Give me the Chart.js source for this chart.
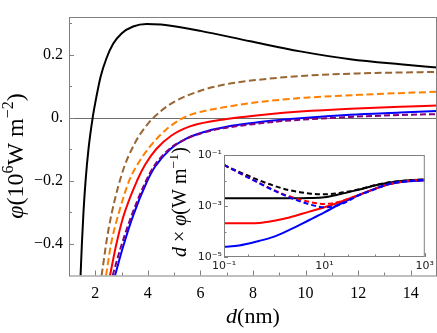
<!DOCTYPE html>
<html>
<head>
<meta charset="utf-8">
<script src="https://cdn.jsdelivr.net/npm/chart.js@4.4.1/dist/chart.umd.min.js"></script>
<style>
html, body { margin: 0; padding: 0; background: #fff; }
#wrap { position: relative; width: 437px; height: 333px; }
#mainChart { position: absolute; left: 0; top: 0; }
#insetChart { position: absolute; left: 170px; top: 140px; }
</style>
</head>
<body>
<div id="wrap">
  <canvas id="mainChart" width="437" height="333"></canvas>
  <canvas id="insetChart" width="267" height="140"></canvas>
</div>
<script>
// Main plot data: d (nm) and phi (10^6 W m^-2) per curve
const blackD = [1.44, 1.49, 1.55, 1.63, 1.74, 1.9, 2.05, 2.2, 2.43, 2.68, 3.0, 3.44, 3.95, 4.5, 5.0, 6.0, 7.9, 9.8, 11.7, 13.6, 15];
const blackPhi = [-0.5, -0.4, -0.3, -0.2, -0.1, 0, 0.07, 0.13, 0.19, 0.235, 0.268, 0.29, 0.298, 0.296, 0.291, 0.276, 0.243, 0.211, 0.186, 0.17, 0.16];

const brownD = [2.24, 2.5, 3.0, 3.5, 4.0, 4.5, 5.0, 6.0, 7.0, 8.0, 10, 12, 15];
const brownPhi = [-0.5, -0.355, -0.181, -0.081, -0.019, 0.022, 0.051, 0.086, 0.107, 0.119, 0.134, 0.141, 0.146];

const orangeD = [2.41, 2.6, 2.9, 3.3, 3.7, 4.14, 4.71, 5.35, 6.0, 7.0, 8.0, 9.0, 10, 12, 15];
const orangePhi = [-0.5, -0.4, -0.3, -0.197, -0.135, -0.085, -0.036, 0, 0.019, 0.035, 0.048, 0.057, 0.064, 0.073, 0.083];

const redD = [2.56, 2.79, 3.06, 3.6, 3.9, 4.33, 4.9, 5.6, 6.5, 7.5, 8.5, 9.8, 11.7, 13.6, 15];
const redPhi = [-0.5, -0.405, -0.315, -0.197, -0.148, -0.098, -0.056, -0.027, -0.01, 0.002, 0.011, 0.02, 0.029, 0.035, 0.039];

const blueD = [2.75, 3.06, 3.44, 3.95, 4.27, 4.84, 5.5, 6.24, 7.0, 8.0, 9.0, 9.8, 11.7, 13.6, 15];
const bluePhi = [-0.5, -0.408, -0.31, -0.205, -0.155, -0.1, -0.064, -0.042, -0.028, -0.016, -0.007, -0.001, 0.01, 0.017, 0.022];

const purpleD = [2.66, 2.98, 3.38, 3.9, 4.22, 4.8, 5.5, 6.24, 7.0, 8.0, 9.0, 9.8, 11.7, 13.6, 15];
const purplePhi = [-0.5, -0.408, -0.31, -0.205, -0.155, -0.1, -0.065, -0.044, -0.031, -0.02, -0.011, -0.006, 0.003, 0.009, 0.012];

const dTicks = [2, 4, 6, 8, 10, 12, 14];
const dMinor = [3, 5, 7, 9, 11, 13];
const phiTicks = [-0.4, -0.2, 0, 0.2];
const phiMinor = [-0.3, -0.1, 0.1, 0.3];

// Inset data: d x phi (W m^-1) on log-log axes
const insetD = [0.1, 0.2, 0.5, 1, 2, 5, 10, 20, 50, 100, 200, 500, 1000];
const insetBlack = [2.0e-3, 2.0e-3, 2.0e-3, 2.0e-3, 2.0e-3, 2.04e-3, 2.19e-3, 2.88e-3, 4.47e-3, 6.31e-3, 8.32e-3, 1.02e-2, 1.1e-2];
const insetBlackDash = [4.07e-2, 2.19e-2, 1.02e-2, 6.17e-3, 4.17e-3, 3.09e-3, 2.88e-3, 3.24e-3, 4.57e-3, 6.46e-3, 8.5e-3, 1.02e-2, 1.1e-2];
const insetRed = [2.09e-4, 2.09e-4, 2.16e-4, 2.63e-4, 3.55e-4, 6.03e-4, 8.91e-4, 1.41e-3, 2.75e-3, 4.68e-3, 7.24e-3, 9.77e-3, 1.05e-2];
const insetRedDash = [4.07e-2, 2.0e-2, 8.1e-3, 4.17e-3, 2.4e-3, 1.45e-3, 1.2e-3, 1.48e-3, 2.75e-3, 4.68e-3, 7.24e-3, 9.77e-3, 1.05e-2];
const insetBlue = [2.51e-5, 2.82e-5, 4.27e-5, 6.31e-5, 1.15e-4, 2.82e-4, 5.62e-4, 1.17e-3, 2.75e-3, 4.68e-3, 7.41e-3, 9.33e-3, 1.0e-2];
const insetBlueDash = [4.07e-2, 2.0e-2, 7.9e-3, 3.98e-3, 2.19e-3, 1.17e-3, 8.9e-4, 1.12e-3, 2.69e-3, 4.5e-3, 7.41e-3, 9.55e-3, 1.05e-2];

const insetXTicks = [0.1, 10, 1000];
const insetXMinor = [0.3, 1, 3, 30, 100, 300];
const insetYTicks = [1e-5, 1e-3, 1e-1];
const insetYMinor = [1e-4, 1e-2];

const colors = {
    black: '#000000',
    brown: '#996633',
    orange: '#ff8000',
    red: '#ff0000',
    blue: '#0000ff',
    purple: '#800080'
};

const serif = "'Liberation Serif', 'DejaVu Serif', serif";
const sans = "'DejaVu Sans', 'Liberation Sans', sans-serif";
const frameColor = '#808080';

const pts = (xs, ys) => xs.map((x, i) => ({ x: x, y: ys[i] }));

const line = (xs, ys, color, dash, width) => ({
    data: pts(xs, ys),
    borderColor: color,
    borderWidth: width || 2,
    borderDash: dash || [],
    pointRadius: 0,
    fill: false,
    cubicInterpolationMode: 'monotone'
});

// text with italic / superscript parts, centred on (x, y) baseline
function drawRich(ctx, parts, x, y, size, angle) {
    const fontFor = p => {
        if (p[1] === 'i') return 'italic ' + size + 'px ' + serif;
        if (p[1] === 's') return Math.round(size * 0.68) + 'px ' + serif;
        return size + 'px ' + serif;
    };
    ctx.save();
    ctx.translate(x, y);
    ctx.rotate(angle);
    let total = 0;
    parts.forEach(p => { ctx.font = fontFor(p); total += ctx.measureText(p[0]).width; });
    let cx = -total / 2;
    ctx.fillStyle = '#000';
    ctx.textBaseline = 'alphabetic';
    ctx.textAlign = 'left';
    parts.forEach(p => {
        ctx.font = fontFor(p);
        ctx.fillText(p[0], cx, p[1] === 's' ? -size * 0.42 : 0);
        cx += ctx.measureText(p[0]).width;
    });
    ctx.restore();
}

function drawTicks(ctx, chart, xs, ys, len) {
    const a = chart.chartArea;
    const sx = chart.scales.x, sy = chart.scales.y;
    ctx.beginPath();
    xs.forEach(v => {
        const px = Math.round(sx.getPixelForValue(v)) + 0.5;
        ctx.moveTo(px, a.bottom);
        ctx.lineTo(px, a.bottom - len);
    });
    ys.forEach(v => {
        const py = Math.round(sy.getPixelForValue(v)) + 0.5;
        ctx.moveTo(a.left, py);
        ctx.lineTo(a.left + len, py);
    });
    ctx.stroke();
}

const mainDecor = {
    id: 'mainDecor',
    beforeDatasetsDraw(chart) {
        const ctx = chart.ctx, a = chart.chartArea;
        const y0 = Math.round(chart.scales.y.getPixelForValue(0)) + 0.5;
        ctx.save();
        ctx.strokeStyle = '#6e6e6e';
        ctx.lineWidth = 1;
        ctx.beginPath();
        ctx.moveTo(a.left, y0);
        ctx.lineTo(a.right, y0);
        ctx.stroke();
        ctx.restore();
    },
    afterDatasetsDraw(chart) {
        const ctx = chart.ctx, a = chart.chartArea;
        ctx.save();
        ctx.strokeStyle = frameColor;
        ctx.lineWidth = 1;
        ctx.strokeRect(a.left + 0.5, a.top + 0.5, a.right - a.left - 1, a.bottom - a.top);
        drawTicks(ctx, chart, dTicks, phiTicks, 5);
        drawTicks(ctx, chart, dMinor, phiMinor, 3);
        ctx.restore();
    },
    afterDraw(chart) {
        const ctx = chart.ctx;
        drawRich(ctx, [['d', 'i'], ['(nm)', 'n']], 253, 323, 22, 0);
        drawRich(ctx, [['φ', 'i'], ['(10', 'n'], ['6', 's'], ['W m', 'n'], ['−2', 's'], [')', 'n']], 23, 156, 24, -Math.PI / 2);
    }
};

const insetDecor = {
    id: 'insetDecor',
    beforeDraw(chart) {
        const ctx = chart.ctx, a = chart.chartArea;
        ctx.save();
        ctx.fillStyle = '#fff';
        ctx.fillRect(a.left, a.top, a.right - a.left, a.bottom - a.top);
        ctx.restore();
    },
    afterDatasetsDraw(chart) {
        const ctx = chart.ctx, a = chart.chartArea;
        ctx.save();
        ctx.strokeStyle = frameColor;
        ctx.lineWidth = 1;
        ctx.strokeRect(a.left + 0.5, a.top + 0.5, a.right - a.left - 1, a.bottom - a.top - 1);
        drawTicks(ctx, chart, insetXTicks, insetYTicks, 4);
        drawTicks(ctx, chart, insetXMinor, insetYMinor, 2.5);
        ctx.restore();
    },
    afterDraw(chart) {
        drawRich(chart.ctx, [['d', 'i'], [' × ', 'n'], ['φ', 'i'], ['(W m', 'n'], ['−1', 's'], [')', 'n']], 16, 62, 20, -Math.PI / 2);
    }
};

const supDigits = { '-': '⁻', '0': '⁰', '1': '¹', '2': '²', '3': '³', '4': '⁴', '5': '⁵' };
const powerLabel = v => '10' + String(Math.round(Math.log10(v))).split('').map(c => supDigits[c]).join('');

const createMainChart = () => {
    const ctx = document.getElementById('mainChart').getContext('2d');
    return new Chart(ctx, {
        type: 'line',
        data: {
            datasets: [
                line(purpleD, purplePhi, colors.purple, [6, 3]),
                line(blueD, bluePhi, colors.blue),
                line(redD, redPhi, colors.red),
                line(orangeD, orangePhi, colors.orange, [7, 3.5]),
                line(brownD, brownPhi, colors.brown, [7, 3.5]),
                line(blackD, blackPhi, colors.black)
            ]
        },
        options: {
            responsive: false,
            animation: false,
            layout: { padding: { left: 0, top: 17, right: 0, bottom: 0 } },
            plugins: {
                legend: { display: false },
                tooltip: { enabled: false }
            },
            scales: {
                x: {
                    type: 'linear',
                    min: 1,
                    max: 15,
                    grid: { display: false, drawTicks: false },
                    border: { display: false },
                    afterBuildTicks: s => { s.ticks = dTicks.map(v => ({ value: v })); },
                    afterFit: s => { s.height = 57.5; },
                    ticks: {
                        padding: 9,
                        maxRotation: 0,
                        autoSkip: false,
                        color: '#000',
                        font: { family: serif, size: 16 }
                    }
                },
                y: {
                    type: 'linear',
                    min: -0.5,
                    max: 0.32,
                    grid: { display: false, drawTicks: false },
                    border: { display: false },
                    afterBuildTicks: s => { s.ticks = phiTicks.map(v => ({ value: v })); },
                    afterFit: s => { s.width = 69; },
                    ticks: {
                        padding: 6,
                        color: '#000',
                        font: { family: serif, size: 16 },
                        callback: v => v === 0 ? '0.' : v.toFixed(1).replace('-', '−')
                    }
                }
            }
        },
        plugins: [mainDecor]
    });
};

const createInsetChart = () => {
    const ctx = document.getElementById('insetChart').getContext('2d');
    return new Chart(ctx, {
        type: 'line',
        data: {
            datasets: [
                line(insetD, insetBlueDash, colors.blue, [5, 3]),
                line(insetD, insetRedDash, colors.red, [5, 3]),
                line(insetD, insetBlackDash, colors.black, [5, 3]),
                line(insetD, insetBlue, colors.blue),
                line(insetD, insetRed, colors.red),
                line(insetD, insetBlack, colors.black)
            ]
        },
        options: {
            responsive: false,
            animation: false,
            layout: { padding: { left: 0, top: 15, right: 11, bottom: 0 } },
            plugins: {
                legend: { display: false },
                tooltip: { enabled: false }
            },
            scales: {
                x: {
                    type: 'logarithmic',
                    min: 0.1,
                    max: 1000,
                    grid: { display: false, drawTicks: false },
                    border: { display: false },
                    afterBuildTicks: s => { s.ticks = insetXTicks.map(v => ({ value: v })); },
                    afterFit: s => { s.height = 23; },
                    ticks: {
                        padding: 3,
                        maxRotation: 0,
                        autoSkip: false,
                        color: '#222',
                        font: { family: sans, size: 11 },
                        callback: v => powerLabel(v)
                    }
                },
                y: {
                    type: 'logarithmic',
                    min: 1e-5,
                    max: 0.1,
                    grid: { display: false, drawTicks: false },
                    border: { display: false },
                    afterBuildTicks: s => { s.ticks = insetYTicks.map(v => ({ value: v })); },
                    afterFit: s => { s.width = 54; },
                    ticks: {
                        padding: 2,
                        color: '#222',
                        font: { family: sans, size: 11 },
                        callback: v => powerLabel(v)
                    }
                }
            }
        },
        plugins: [insetDecor]
    });
};

document.addEventListener('DOMContentLoaded', () => {
    const mainChart = createMainChart();
    const insetChart = createInsetChart();
});
</script>
</body>
</html>
